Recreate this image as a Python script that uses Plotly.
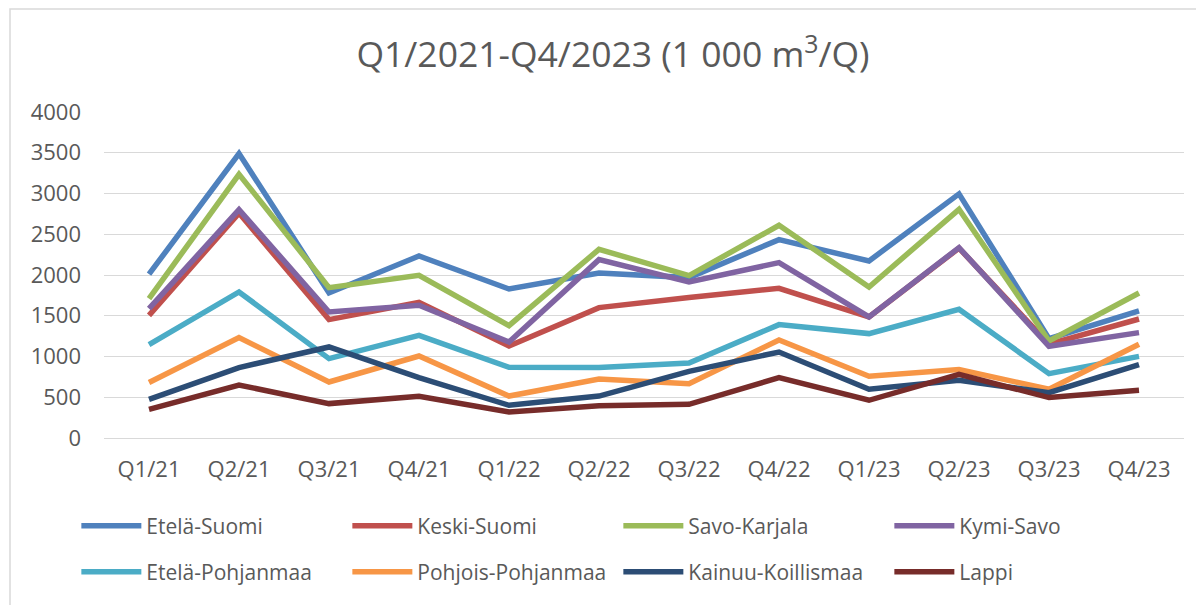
import plotly.graph_objects as go

categories = ["Q1/21", "Q2/21", "Q3/21", "Q4/21", "Q1/22", "Q2/22", "Q3/22", "Q4/22",
              "Q1/23", "Q2/23", "Q3/23", "Q4/23"]

etela_suomi = [2010, 3490, 1780, 2233, 1828, 2025, 1968, 2434, 2172, 2995, 1219, 1559]
keski_suomi = [1505, 2760, 1453, 1665, 1129, 1600, 1723, 1837, 1485, 2330, 1150, 1460]
savo_karjala = [1710, 3236, 1845, 1996, 1379, 2315, 1993, 2610, 1853, 2806, 1190, 1779]
kymi_savo = [1588, 2802, 1546, 1628, 1178, 2189, 1914, 2152, 1485, 2336, 1125, 1293]
etela_pohjanmaa = [1146, 1792, 974, 1260, 867, 864, 920, 1391, 1281, 1579, 790, 1002]
pohjois_pohjanmaa = [680, 1232, 687, 1006, 515, 724, 667, 1202, 757, 839, 598, 1150]
kainuu_koillismaa = [475, 864, 1117, 741, 401, 515, 818, 1055, 598, 708, 557, 900]
lappi = [352, 650, 422, 512, 319, 397, 413, 741, 463, 782, 496, 585]

series_names = ["Etelä-Suomi", "Keski-Suomi", "Savo-Karjala", "Kymi-Savo",
                "Etelä-Pohjanmaa", "Pohjois-Pohjanmaa", "Kainuu-Koillismaa", "Lappi"]
series_values = [etela_suomi, keski_suomi, savo_karjala, kymi_savo,
                 etela_pohjanmaa, pohjois_pohjanmaa, kainuu_koillismaa, lappi]
colors = ["#4F81BD", "#C0504D", "#9BBB59", "#8064A2",
          "#4BACC6", "#F79646", "#2C4D75", "#772C2A"]

title_text = "Q1/2021-Q4/2023 (1 000 m<sup>3</sup>/Q)"
y_ticks = [0, 500, 1000, 1500, 2000, 2500, 3000, 3500, 4000]

FONT = "Open Sans"
TXT = "#595959"

# page body has an 8px margin; figure sized to fit the window exactly
W, H = 1196, 597
L, T, R, B = 96, 104, 20, 167
PW, PH = W - L - R, H - T - B

fig = go.Figure()
for i, (name, vals, col) in enumerate(zip(series_names, series_values, colors)):
    fig.add_trace(go.Scatter(
        x=categories, y=vals, name=name, mode="lines",
        line=dict(color=col, width=5.5),
        legend="legend" if i < 4 else "legend2",
    ))

legend_common = dict(
    orientation="h", xanchor="left", yanchor="middle", x=-0.0256,
    font=dict(family=FONT, size=21, color=TXT),
    entrywidth=196, entrywidthmode="pixels", itemwidth=60,
    bgcolor="rgba(0,0,0,0)", traceorder="normal",
)

fig.update_layout(
    width=W, height=H,
    paper_bgcolor="white", plot_bgcolor="white",
    margin=dict(l=L, r=R, t=T, b=B, autoexpand=False),
    title=dict(text=title_text, x=605 / W, xref="container", xanchor="center",
               y=1 - 47 / H, yref="container", yanchor="middle",
               font=dict(family=FONT, size=35.5, color=TXT)),
    showlegend=True,
    legend=dict(**legend_common, y=1 - (526 - 112) / PH),
    legend2=dict(**legend_common, y=1 - (572 - 112) / PH),
    xaxis=dict(
        type="category", showgrid=False, showline=False, zeroline=False,
        tickfont=dict(family=FONT, size=22, color=TXT),
        ticks="", ticklabelstandoff=16,
        range=[-0.5, len(categories) - 0.5],
    ),
    yaxis=dict(
        range=[0, 4000], tickvals=y_ticks, ticktext=[str(v) for v in y_ticks],
        showgrid=True, gridcolor="#D9D9D9", gridwidth=1.4,
        zeroline=True, zerolinecolor="#D9D9D9", zerolinewidth=1.4,
        showline=False, ticks="",
        tickfont=dict(family=FONT, size=22, color=TXT),
        ticklabelstandoff=22,
    ),
    shapes=[dict(type="rect", xref="paper", yref="paper",
                 x0=(2 - L) / PW, x1=(1220 - L) / PW,
                 y0=-(620 - (T + PH)) / PH, y1=1 + (T - 1) / PH,
                 line=dict(color="#D9D9D9", width=1.5), layer="below")],
)

fig.write_html("out.html")
